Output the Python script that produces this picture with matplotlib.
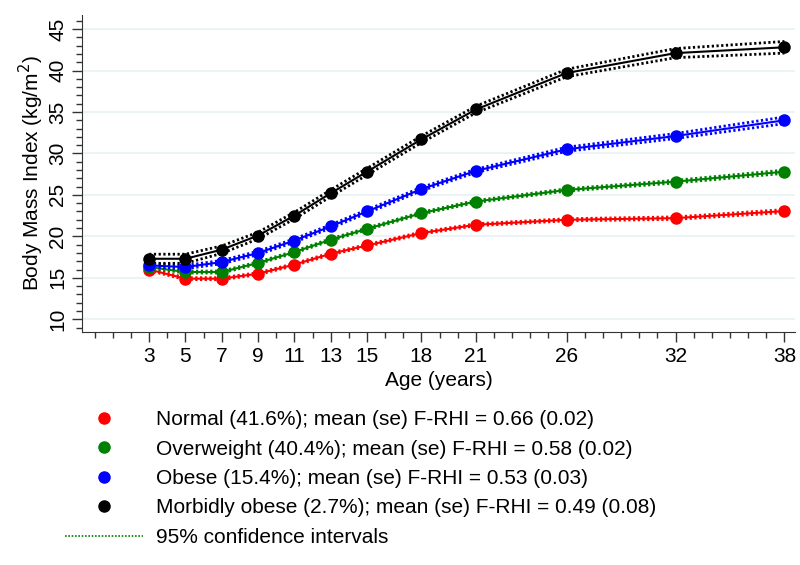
import numpy as np
import matplotlib
matplotlib.use('Agg')
from matplotlib import pyplot as plt
from matplotlib.lines import Line2D

plt.rcParams['font.family'] = ['Liberation Sans', 'DejaVu Sans']

ages = [3, 5, 7, 9, 11, 13, 15, 18, 21, 26, 32, 38]

normal = [16.0, 14.9, 14.9, 15.5, 16.6, 17.9, 18.9, 20.4, 21.4, 22.0, 22.2, 23.05]
overweight = [16.3, 15.7, 15.7, 16.8, 18.1, 19.6, 20.9, 22.8, 24.2, 25.6, 26.6, 27.8]
obese = [16.5, 16.3, 16.9, 18.0, 19.5, 21.2, 23.0, 25.7, 27.9, 30.5, 32.1, 34.0]
morbid = [17.3, 17.3, 18.4, 20.1, 22.5, 25.2, 27.8, 31.7, 35.3, 39.7, 42.1, 42.8]

# half widths of the 95% CI
normal_ci = [0.12, 0.12, 0.12, 0.12, 0.12, 0.12, 0.12, 0.12, 0.12, 0.13, 0.15, 0.18]
overweight_ci = [0.12, 0.12, 0.12, 0.12, 0.12, 0.12, 0.12, 0.12, 0.13, 0.14, 0.16, 0.2]
obese_ci = [0.2, 0.2, 0.2, 0.2, 0.2, 0.2, 0.2, 0.2, 0.2, 0.25, 0.3, 0.4]
morbid_ci = [0.55, 0.55, 0.45, 0.4, 0.4, 0.4, 0.4, 0.4, 0.4, 0.45, 0.55, 0.7]

labels = [
    'Normal (41.6%); mean (se) F-RHI = 0.66 (0.02)',
    'Overweight (40.4%); mean (se) F-RHI = 0.58 (0.02)',
    'Obese (15.4%); mean (se) F-RHI = 0.53 (0.03)',
    'Morbidly obese (2.7%); mean (se) F-RHI = 0.49 (0.08)',
]
colors = ['#ff0000', '#008000', '#0000ff', '#000000']
series = [normal, overweight, obese, morbid]
cis = [normal_ci, overweight_ci, obese_ci, morbid_ci]

fig = plt.figure(figsize=(8, 5.65), dpi=100)
ax = fig.add_axes([0.1025, 0.4124, 0.891, 0.561])

for vals, ci, c in zip(series, cis, colors):
    vals = np.array(vals)
    ci = np.array(ci)
    ax.plot(ages, vals, color=c, lw=1.5, zorder=3)
    for band in (vals - ci, vals + ci):
        ax.plot(ages, band, color=c, lw=2.0, linestyle=(0, (0.8, 0.9)), zorder=3)
    ax.plot(ages, vals, 'o', color=c, ms=8, zorder=4)

ax.set_xlim(-0.7, 38.57)
ax.set_ylim(8.47, 46.69)
ax.set_xticks(ages)
ax.set_xticks(range(0, 39), minor=True)
ax.set_yticks(range(10, 46, 5))
ax.set_yticks(range(9, 47), minor=True)
ax.tick_params(axis='both', which='major', length=7, width=1, labelsize=15, color='#333333')
ax.tick_params(axis='both', which='minor', length=4.5, width=1, color='#333333')
for lab in ax.get_yticklabels():
    lab.set_rotation(90)
    lab.set_va('center')
ax.grid(axis='y', which='major', color='#e8f1f2', lw=1.2)
ax.set_axisbelow(True)
for s in ('top', 'right'):
    ax.spines[s].set_visible(False)
for s in ('left', 'bottom'):
    ax.spines[s].set_color('#333333')

ax.set_xlabel('Age (years)', fontsize=15, labelpad=4)
ax.set_ylabel('Body Mass Index (kg/m$^2$)', fontsize=15, labelpad=2)

handles = [Line2D([], [], marker='o', color=c, ls='none', ms=8) for c in colors]
handles.append(Line2D([], [], color='#008000', lw=1.2, ls=(0, (1, 1))))
fig.legend(handles, labels + ['95% confidence intervals'],
           loc='upper left', bbox_to_anchor=(0.081, 0.274),
           frameon=False, fontsize=15, handlelength=3.75, handletextpad=0.65,
           labelspacing=0.5, borderpad=0, borderaxespad=0)

fig.savefig('out.png', dpi=100)
